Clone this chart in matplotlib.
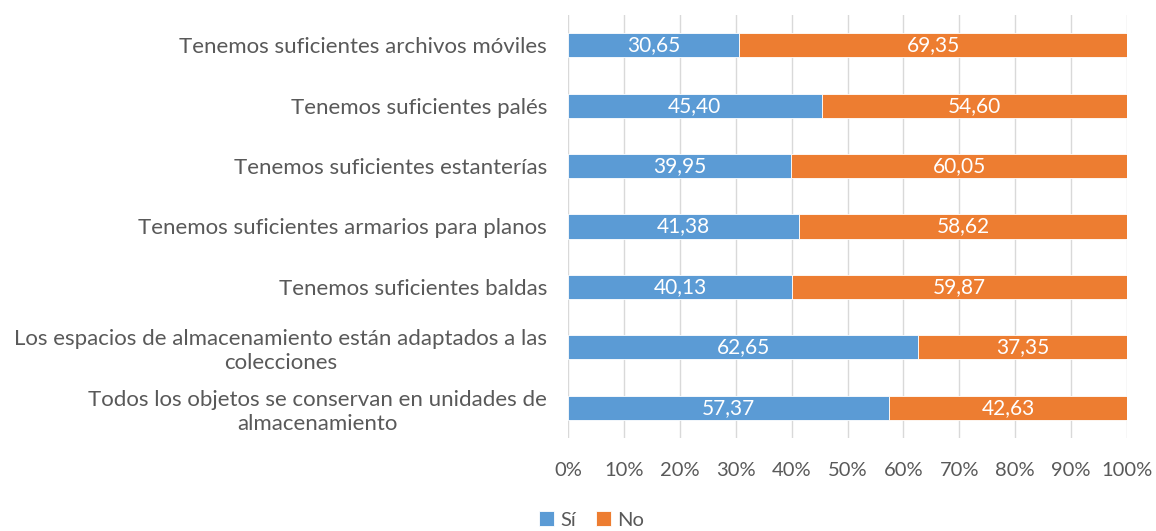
import matplotlib
matplotlib.use("Agg")
import matplotlib.pyplot as plt
import numpy as np

# data (top to bottom)
categories = [
    "Tenemos suficientes archivos móviles",
    "Tenemos suficientes palés",
    "Tenemos suficientes estanterías",
    "Tenemos suficientes armarios para planos",
    "Tenemos suficientes baldas",
    "Los espacios de almacenamiento están adaptados a las\ncolecciones",
    "Todos los objetos se conservan en unidades de\nalmacenamiento",
]
si = [30.65, 45.40, 39.95, 41.38, 40.13, 62.65, 57.37]
no = [69.35, 54.60, 60.05, 58.62, 59.87, 37.35, 42.63]
ticks = np.arange(0, 101, 10)

blue = "#5B9BD5"
orange = "#ED7D31"
grey = "#595959"

plt.rcParams["font.family"] = ["Lato", "DejaVu Sans"]

fig = plt.figure(figsize=(11.56, 5.31), dpi=100)
ax = fig.add_axes([0.4913, 0.1751, 0.4837, 0.7967])

y = np.arange(len(categories))
ax.barh(y, si, height=0.4, color=blue, edgecolor="white", linewidth=0.6, label="Sí", zorder=3)
ax.barh(y, no, left=si, height=0.4, color=orange, edgecolor="white", linewidth=0.6, label="No", zorder=3)

# value labels in the middle of each segment
for i in range(len(categories)):
    ax.text(si[i] / 2, y[i], f"{si[i]:.2f}".replace(".", ","), ha="center", va="center",
            color="white", fontsize=15, zorder=4)
    ax.text(si[i] + no[i] / 2, y[i], f"{no[i]:.2f}".replace(".", ","), ha="center", va="center",
            color="white", fontsize=15, zorder=4)

ax.set_xlim(0, 100)
ax.set_ylim(len(categories) - 0.5, -0.5)
ax.set_xticks(ticks)
ax.set_xticklabels([f"{t}%" for t in ticks])
ax.set_yticks(y)
ax.set_yticklabels(categories, multialignment="center", linespacing=1.25)
ax.tick_params(axis="x", length=0, pad=17, labelsize=14.5, labelcolor=grey)
ax.tick_params(axis="y", length=0, pad=15, labelsize=16, labelcolor=grey)
ax.grid(axis="x", color="#D9D9D9", linewidth=1, zorder=0)
for s in ax.spines.values():
    s.set_visible(False)

fig.legend(handles=ax.containers, labels=["Sí", "No"], loc="center", bbox_to_anchor=(0.512, 0.021),
           ncol=2, frameon=False, fontsize=14.5, handlelength=0.75, handleheight=0.75,
           handletextpad=0.3, columnspacing=1.0, labelcolor=grey, borderpad=0)

fig.savefig("out.png", dpi=100)
